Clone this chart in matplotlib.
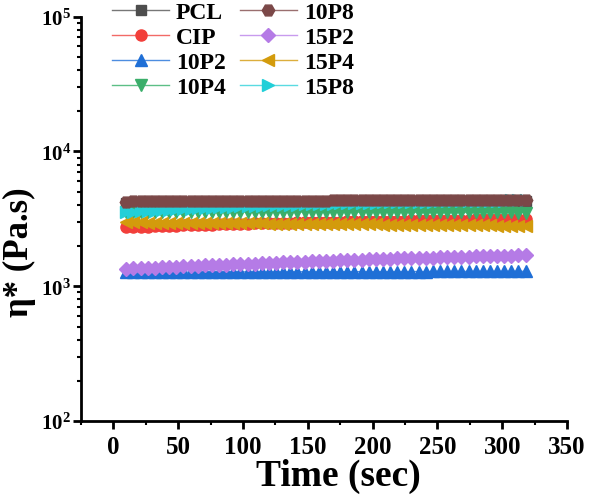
import numpy as np
import matplotlib
matplotlib.use('Agg')
import matplotlib.pyplot as plt
from matplotlib.ticker import FixedLocator, LogLocator, NullFormatter, FuncFormatter, MultipleLocator

plt.rcParams['font.family'] = ['Liberation Serif', 'DejaVu Serif']
plt.rcParams['font.weight'] = 'bold'
plt.rcParams['mathtext.fontset'] = 'custom'
plt.rcParams['mathtext.rm'] = 'Liberation Serif:bold'
plt.rcParams['mathtext.bf'] = 'Liberation Serif:bold'

# temps de mesure (sec)
time = np.arange(10, 320, 5.5)

pcl = [4150, 4152, 4155, 4158, 4160, 4162, 4165, 4168, 4170, 4172,
       4175, 4178, 4180, 4182, 4185, 4187, 4190, 4192, 4195, 4197,
       4200, 4202, 4204, 4206, 4208, 4210, 4212, 4214, 4216, 4218,
       4220, 4222, 4224, 4226, 4228, 4230, 4232, 4234, 4236, 4238,
       4240, 4241, 4242, 4243, 4244, 4245, 4246, 4247, 4248, 4249,
       4250, 4251, 4252, 4253, 4254, 4255, 4256]
cip = [2730, 2745, 2760, 2772, 2785, 2797, 2808, 2820, 2831, 2842,
       2852, 2862, 2872, 2882, 2891, 2900, 2909, 2918, 2927, 2935,
       2943, 2951, 2959, 2967, 2975, 2982, 2990, 2997, 3004, 3011,
       3018, 3025, 3032, 3038, 3045, 3051, 3057, 3063, 3069, 3075,
       3081, 3087, 3093, 3098, 3104, 3109, 3115, 3120, 3125, 3131,
       3136, 3141, 3146, 3151, 3156, 3161, 3166]
p10_2 = [1270, 1271, 1271, 1272, 1272, 1273, 1273, 1274, 1274, 1275,
         1275, 1276, 1276, 1277, 1277, 1278, 1278, 1278, 1279, 1279,
         1280, 1280, 1280, 1281, 1281, 1282, 1282, 1282, 1283, 1283,
         1283, 1284, 1284, 1284, 1285, 1285, 1285, 1286, 1286, 1286,
         1287, 1287, 1287, 1288, 1288, 1288, 1288, 1289, 1289, 1289,
         1289, 1290, 1290, 1290, 1290, 1291, 1291]
p10_4 = [3580, 3579, 3578, 3577, 3576, 3575, 3574, 3573, 3572, 3571,
         3570, 3569, 3568, 3567, 3566, 3565, 3564, 3563, 3562, 3561,
         3560, 3559, 3558, 3557, 3556, 3555, 3554, 3553, 3552, 3551,
         3550, 3549, 3548, 3547, 3546, 3545, 3544, 3543, 3542, 3541,
         3540, 3539, 3538, 3537, 3536, 3535, 3534, 3533, 3532, 3531,
         3530, 3529, 3528, 3527, 3526, 3525, 3524]
p10_8 = [4250, 4255, 4258, 4262, 4265, 4268, 4270, 4273, 4276, 4279,
         4282, 4285, 4288, 4290, 4293, 4296, 4298, 4300, 4303, 4305,
         4308, 4310, 4312, 4315, 4317, 4320, 4322, 4324, 4326, 4328,
         4330, 4332, 4334, 4336, 4338, 4340, 4342, 4344, 4346, 4348,
         4350, 4352, 4353, 4355, 4356, 4358, 4359, 4360, 4362, 4363,
         4364, 4366, 4367, 4368, 4370, 4371, 4372]
p15_2 = [1350, 1357, 1364, 1371, 1378, 1385, 1392, 1399, 1406, 1413,
         1420, 1427, 1434, 1441, 1448, 1455, 1462, 1469, 1476, 1483,
         1490, 1497, 1504, 1511, 1518, 1525, 1532, 1539, 1546, 1553,
         1560, 1566, 1572, 1578, 1584, 1590, 1596, 1602, 1608, 1614,
         1620, 1625, 1630, 1635, 1640, 1645, 1650, 1655, 1660, 1665,
         1670, 1675, 1680, 1685, 1690, 1695, 1700]
p15_4 = [2980, 2977, 2974, 2971, 2968, 2965, 2962, 2959, 2956, 2953,
         2950, 2947, 2944, 2941, 2938, 2935, 2932, 2929, 2926, 2923,
         2920, 2917, 2914, 2911, 2908, 2905, 2902, 2899, 2896, 2893,
         2890, 2887, 2884, 2881, 2878, 2875, 2872, 2869, 2866, 2863,
         2860, 2857, 2854, 2851, 2848, 2845, 2842, 2839, 2836, 2833,
         2830, 2827, 2824, 2821, 2818, 2815, 2812]
p15_8 = [3530, 3560, 3590, 3618, 3645, 3672, 3698, 3722, 3745, 3768,
         3790, 3811, 3832, 3852, 3871, 3890, 3908, 3926, 3943, 3960,
         3976, 3992, 4007, 4022, 4037, 4051, 4065, 4078, 4091, 4104,
         4116, 4128, 4140, 4151, 4162, 4173, 4184, 4194, 4204, 4214,
         4223, 4232, 4241, 4250, 4258, 4266, 4274, 4282, 4290, 4297,
         4304, 4311, 4318, 4325, 4331, 4337, 4343]

labels = ['PCL', 'CIP', '10P2', '10P4', '10P8', '15P2', '15P4', '15P8']
series = [pcl, cip, p10_2, p10_4, p10_8, p15_2, p15_4, p15_8]
colors = ['#4d4d4d', '#f23f3a', '#1f6fd6', '#3aae6a', '#7b4848', '#b57be6', '#d39b0c', '#22cfd8']
markers = ['s', 'o', '^', 'v', 'H', 'D', '<', '>']
linecols = ['#777777', '#f26a66', '#4d8de0', '#5cbf86', '#9a6f6f', '#c89bee', '#dcae3d', '#5adbe1']
# ordre de tracé (le 10P8 passe au dessus)
zorders = [2, 3, 3, 3, 6, 4, 4, 5]
msizes = [7, 8, 8, 8, 9, 7, 8, 8]

fig = plt.figure(figsize=(6, 5.02), dpi=100)
ax = fig.add_axes([0.135, 0.159, 0.81, 0.806])

handles = []
for y, lab, c, lc, m, z, ms in zip(series, labels, colors, linecols, markers, zorders, msizes):
    h, = ax.plot(time, y, color=lc, lw=1, marker=m, markersize=ms,
                 markerfacecolor=c, markeredgecolor=c, label=lab, zorder=z)
    handles.append(h)

ax.set_yscale('log')
ax.set_ylim(100, 1e5)
ax.set_xlim(-25, 350)
ax.xaxis.set_major_locator(FixedLocator([0, 50, 100, 150, 200, 250, 300, 350]))
ax.xaxis.set_minor_locator(MultipleLocator(25))
ax.yaxis.set_major_locator(FixedLocator([1e2, 1e3, 1e4, 1e5]))
ax.yaxis.set_minor_locator(LogLocator(base=10, subs=np.arange(2, 10)))
ax.yaxis.set_minor_formatter(NullFormatter())
ax.yaxis.set_major_formatter(FuncFormatter(lambda v, p: r'$\mathbf{10^{%d}}$' % round(np.log10(v))))

for s in ['top', 'right']:
    ax.spines[s].set_visible(False)
for s in ['left', 'bottom']:
    ax.spines[s].set_linewidth(2)

ax.tick_params(which='major', direction='out', length=6, width=2, pad=4)
ax.tick_params(axis='x', which='major', labelsize=18)
ax.tick_params(axis='y', which='major', labelsize=15, pad=1)
ax.tick_params(which='minor', direction='out', length=3, width=1.5)
for t in ax.get_xticklabels():
    t.set_fontweight('bold')

ax.set_xlabel('Time (sec)', fontsize=27, fontweight='bold')
ax.set_ylabel('η* (Pa.s)', fontsize=25, fontweight='bold')
ax.xaxis.set_label_coords(0.53, -0.09)
ax.yaxis.set_label_coords(-0.092, 0.42)

ax.legend(handles=handles, ncol=2, loc='upper left', bbox_to_anchor=(0.045, 1.06),
          frameon=False, prop={'size': 17, 'weight': 'bold'}, handlelength=2.4,
          labelspacing=0.15, columnspacing=0.6, handletextpad=0.3, borderaxespad=0)

plt.savefig('out.png', dpi=100)
